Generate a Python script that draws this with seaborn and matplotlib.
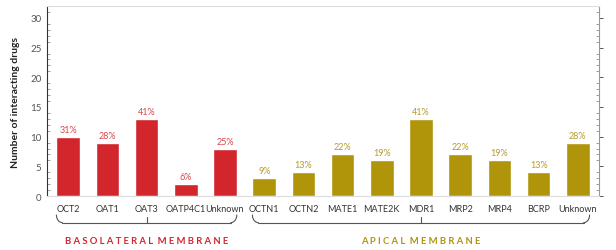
import matplotlib
matplotlib.use("Agg")
import matplotlib.pyplot as plt
import matplotlib.transforms as mtransforms
from matplotlib.ticker import MultipleLocator
import seaborn as sns
import pandas as pd
import numpy as np

# ---- data ----
labels = ["OCT2", "OAT1", "OAT3", "OATP4C1", "Unknown",
          "OCTN1", "OCTN2", "MATE1", "MATE2K", "MDR1", "MRP2", "MRP4", "BCRP", "Unknown"]
counts = [10, 9, 13, 2, 8, 3, 4, 7, 6, 13, 7, 6, 4, 9]
percents = ["31%", "28%", "41%", "6%", "25%",
            "9%", "13%", "22%", "19%", "41%", "22%", "19%", "13%", "28%"]
groups = ["Basolateral"] * 5 + ["Apical"] * 9
group_titles = {"Basolateral": "BASOLATERAL MEMBRANE", "Apical": "APICAL MEMBRANE"}

bar_colors = {"Basolateral": "#D2262C", "Apical": "#B0940A"}
text_colors = {"Basolateral": "#D8474C", "Apical": "#B59B2A"}

df = pd.DataFrame({"pos": list(range(len(labels))), "count": counts, "group": groups})

sns.set_style("white")
plt.rcParams["font.family"] = ["Lato", "DejaVu Sans"]

fig = plt.figure(figsize=(6.16, 2.51), dpi=100)
ax = fig.add_axes([0.0763, 0.2151, 0.8961, 0.7569])

sns.barplot(data=df, x="pos", y="count", hue="group", palette=bar_colors,
            order=list(range(len(labels))), hue_order=["Basolateral", "Apical"],
            width=0.6, dodge=False, legend=False, ax=ax, saturation=1)

ax.set_xlim(-0.54, len(labels) - 0.46)
ax.set_ylim(0, 32)
ax.set_xticks(range(len(labels)))
ax.set_xticklabels(labels, fontsize=6.5, color="#333333")
ax.set_xlabel("")
ax.set_ylabel("Number of interacting drugs", fontsize=7.5, fontweight="bold", color="#222222", labelpad=7)

ax.yaxis.set_major_locator(MultipleLocator(5))
ax.yaxis.set_minor_locator(MultipleLocator(1))
ax.tick_params(axis="y", which="major", direction="out", length=3, width=0.7,
               labelsize=7, labelcolor="#555555", color="#555555", right=True, pad=1)
ax.tick_params(axis="y", which="minor", direction="in", length=2, width=0.5,
               color="#777777", right=True, left=True)
ax.tick_params(axis="x", length=0, pad=6)

for side in ["top", "bottom"]:
    ax.spines[side].set_color("#dddddd")
    ax.spines[side].set_linewidth(0.8)
ax.spines["left"].set_color("#333333")
ax.spines["left"].set_linewidth(0.8)
ax.spines["right"].set_color("#999999")
ax.spines["right"].set_linewidth(0.8)

# percentage labels
for i, (v, p, g) in enumerate(zip(counts, percents, groups)):
    ax.text(i, v + 0.5, p, ha="center", va="bottom", fontsize=6.5, color=text_colors[g])

# braces under groups
trans = mtransforms.blended_transform_factory(ax.transData, ax.transAxes)
for g in ["Basolateral", "Apical"]:
    idx = [i for i, gg in enumerate(groups) if gg == g]
    x0, x1 = idx[0] - 0.3, idx[-1] + 0.3
    xm = (idx[0] + idx[-1]) / 2
    yb, yt = -0.14, -0.10
    r = 0.15
    t = np.linspace(0, np.pi / 2, 20)
    lx = x0 + r * (1 - np.cos(t))
    ly = yb + (yt - yb) * (1 - np.sin(t))
    rx = x1 - r * (1 - np.cos(t))
    ax.plot(lx, ly, color="#555555", lw=0.8, transform=trans, clip_on=False)
    ax.plot(rx, ly, color="#555555", lw=0.8, transform=trans, clip_on=False)
    ax.plot([x0 + r, x1 - r], [yb, yb], color="#555555", lw=0.8, transform=trans, clip_on=False)
    ax.plot([xm, xm], [yb, yb + 0.03], color="#555555", lw=0.8, transform=trans, clip_on=False)
    spaced = " ".join(list(group_titles[g])).replace("   ", "  ")
    ax.text(xm, -0.235, spaced, transform=trans, ha="center", va="center",
            fontsize=6.8, fontweight="bold", color=bar_colors[g])

fig.savefig("out.png", dpi=100)
